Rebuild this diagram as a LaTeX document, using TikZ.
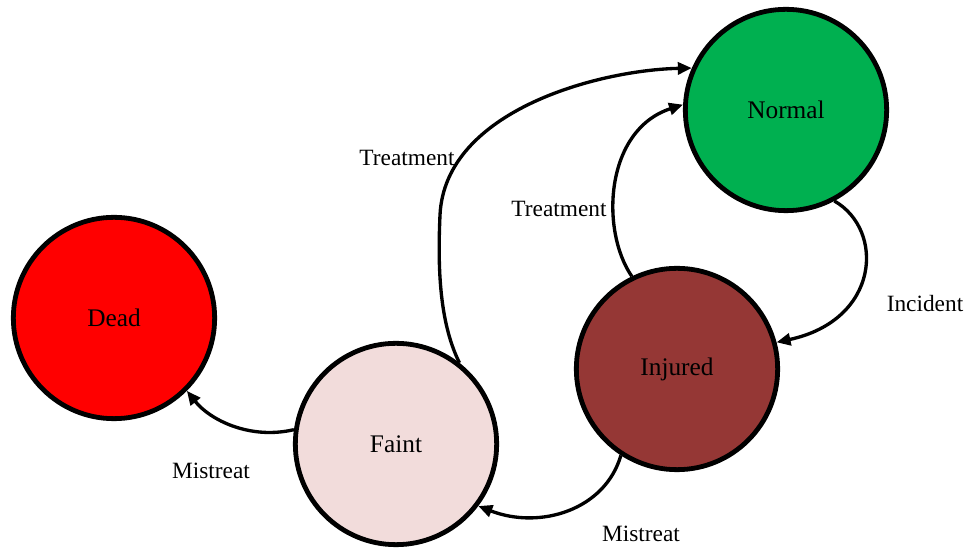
\documentclass[tikz,border=0pt]{standalone}
\usepackage{fontspec}
\setmainfont{Liberation Serif}
\usetikzlibrary{arrows.meta}
\definecolor{cNormal}{HTML}{00B050}
\definecolor{cDead}{HTML}{FF0000}
\definecolor{cFaint}{HTML}{F2DCDB}
\definecolor{cInjured}{HTML}{953735}
\begin{document}
\begin{tikzpicture}[x=0.75pt,y=-0.75pt,
  state/.style={circle,draw=black,line width=3.6pt,minimum size=151pt,inner sep=0pt,
    font=\fontsize{19}{22}\selectfont},
  conn/.style={line width=2.5pt,-{Triangle[length=10.5pt,width=9pt]}},
  lbl/.style={font=\fontsize{17.5}{20}\selectfont,inner sep=0pt}]
\useasboundingbox (0,0) rectangle (965,548);
\node[state,fill=cNormal] (normal) at (786,110) {Normal};
\node[state,fill=cDead] (dead) at (114,318) {Dead};
\node[state,fill=cFaint] (faint) at (396,444) {Faint};
\node[state,fill=cInjured] (injured) at (677,369) {Injured};
% Faint -> Normal
\draw[conn] (faint.52) .. controls (438,320) and (438,260) .. (440,215)
  .. controls (445,110) and (600,70) .. (normal.156);
% Injured -> Normal
\draw[conn] (injured.116) .. controls (600,230) and (605,130) .. (normal.177);
% Normal -> Injured
\draw[conn] (normal.-62) .. controls (885,230) and (880,320) .. (injured.15);
% Injured -> Faint
\draw[conn] (injured.237) .. controls (605,510) and (540,530) .. (faint.-37);
% Faint -> Dead
\draw[conn] (faint.172) .. controls (250,440) and (210,420) .. (dead.-45);
\node[lbl] (l1) at (407,158) {Treatment};
\node[lbl] (l2) at (559,209) {Treatment};
\node[lbl] (l3) at (925,304) {Incident};
\node[lbl] (l4) at (211,471) {Mistreat};
\node[lbl] (l5) at (641,534) {Mistreat};
\end{tikzpicture}
\end{document}
